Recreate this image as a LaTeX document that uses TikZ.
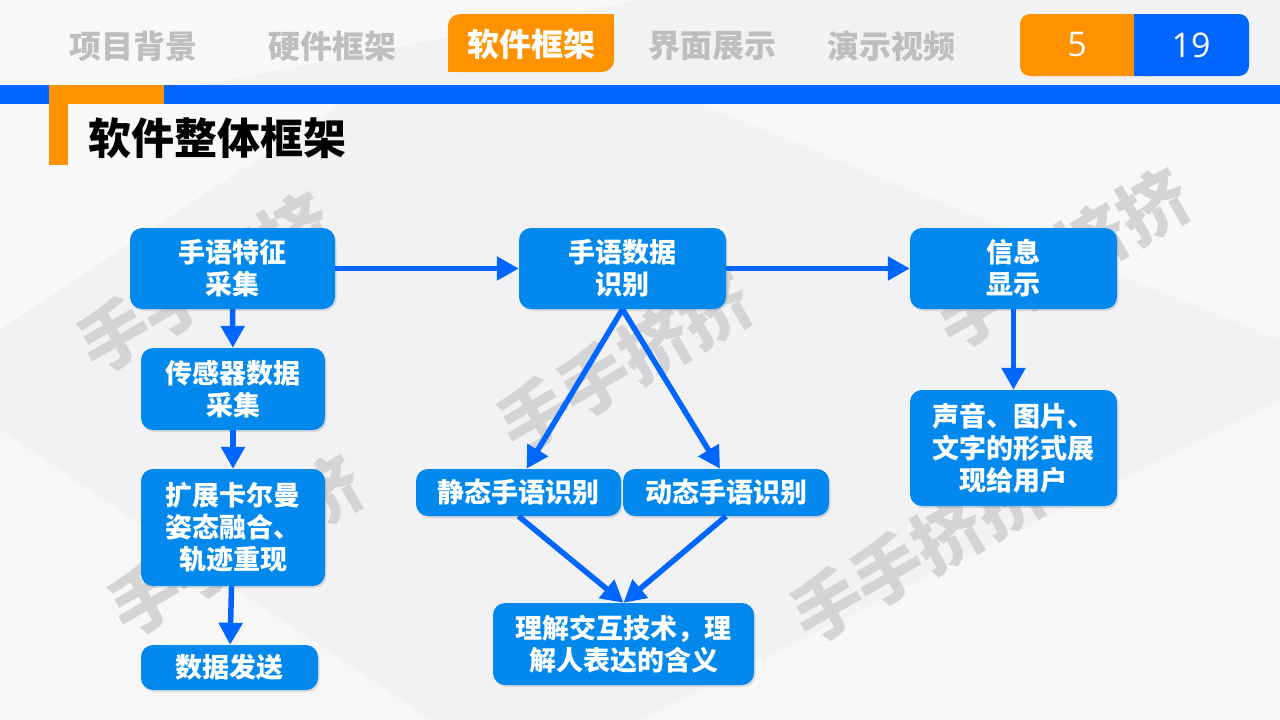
\documentclass[tikz,border=0pt]{standalone}
\usepackage{fontspec}
\setmainfont{Noto Sans CJK SC}
\newfontfamily\numfont{Open Sans}
\usetikzlibrary{
  arrows.meta,
  shadows
}
\definecolor{boxblue}{RGB}{3,137,238}
\definecolor{barblue}{RGB}{0,102,255}
\definecolor{taborange}{RGB}{255,146,0}
\definecolor{tabgray}{RGB}{190,190,192}
\definecolor{markgray}{RGB}{212,212,214}
\definecolor{paper}{RGB}{242,242,244}

\begin{document}
\begin{tikzpicture}[
  x=1pt, y=-1pt,
  box/.style = {shape=rectangle, rounded corners=12pt, fill=boxblue,
    text=white, align=center, inner sep=0pt,
    font=\bfseries\fontsize{27}{32}\selectfont,
    drop shadow={opacity=0.22, shadow xshift=1.5pt, shadow yshift=-2pt}},
  flow/.style = {draw=barblue, line width=5.5pt,
    -{Triangle[length=22pt,width=23pt]}},
  tab/.style = {text=tabgray, font=\bfseries\fontsize{32}{32}\selectfont},
  wmark/.style = {rotate=30, text=markgray,
    font=\bfseries\fontsize{70}{70}\selectfont}]
  \useasboundingbox (0,0) rectangle (1280,720);
  \fill[paper] (0,0) rectangle (1280,720);
  \fill[white, opacity=0.55] (0,104) -- (340,104) -- (0,330) -- cycle;
  \fill[white, opacity=0.45] (0,430) -- (0,720) -- (430,720) -- cycle;
  \fill[white, opacity=0.5] (700,104) -- (1280,104) -- (1280,340) -- cycle;
  \fill[white, opacity=0.45] (640,720) -- (1280,400) -- (1280,720) -- cycle;
  \fill[white, opacity=0.5] (0,0) -- (640,0) -- (200,85) -- (0,85) -- cycle;

  \node[wmark] (wm1) at (205,282) {手手挤挤};
  \node[wmark] (wm2) at (625,362) {手手挤挤};
  \node[wmark] (wm3) at (1062,258) {手手挤挤};
  \node[wmark] (wm4) at (236,545) {手手挤挤};
  \node[wmark] (wm5) at (918,552) {手手挤挤};

  \fill[barblue] (0,85) rectangle (1280,104);
  \fill[taborange] (49,85) rectangle (164,104);
  \fill[taborange] (49,85) rectangle (68,165);
  \node[font=\bfseries\fontsize{43}{43}\selectfont, anchor=west] (title) at (85,138) {软件整体框架};

  \fill[taborange, rounded corners=12pt] (448,14) rectangle (614,72);
  \fill[taborange] (590,14) rectangle (614,40);
  \fill[taborange] (448,48) rectangle (472,72);
  \node[tab] (tab1) at (133,46) {项目背景};
  \node[tab] (tab2) at (332,46) {硬件框架};
  \node[tab, text=white] (tab3) at (531,44) {软件框架};
  \node[tab] (tab4) at (712,46) {界面展示};
  \node[tab] (tab5) at (891,46) {演示视频};

  \fill[taborange, rounded corners=10pt] (1020,14) rectangle (1160,76);
  \fill[barblue, rounded corners=10pt] (1134,14) rectangle (1249,76);
  \fill[barblue] (1134,14) rectangle (1150,76);
  \node[text=white, font=\numfont\fontsize{34}{34}\selectfont] (curpage) at (1077,45) {5};
  \node[text=white, font=\numfont\fontsize{34}{34}\selectfont] (total) at (1191,45) {19};

  \node[box, minimum width=205pt, minimum height=81pt] (collect) at (232.5,268.5) {手语特征\\采集};
  \node[box, minimum width=184pt, minimum height=82pt] (sensor) at (233,389) {传感器数据\\采集};
  \node[box, minimum width=184pt, minimum height=117pt] (kalman) at (233,527.5) {扩展卡尔曼\\姿态融合、\\轨迹重现};
  \node[box, minimum width=177pt, minimum height=45pt] (send) at (229.5,667.5) {数据发送};
  \node[box, minimum width=207pt, minimum height=81pt] (recog) at (622.5,268.5) {手语数据\\识别};
  \node[box, minimum width=205pt, minimum height=47pt] (static) at (518.5,492.5) {静态手语识别};
  \node[box, minimum width=206pt, minimum height=47pt] (dynamic) at (726,492.5) {动态手语识别};
  \node[box, minimum width=261pt, minimum height=82pt] (understand) at (623.5,644) {理解交互技术，理\\解人表达的含义};
  \node[box, minimum width=207pt, minimum height=81pt] (info) at (1013.5,268.5) {信息\\显示};
  \node[box, minimum width=207pt, minimum height=116pt] (show) at (1013.5,448) {声音、图片、\\文字的形式展\\现给用户};

  \draw[flow] (collect) -- (recog);
  \draw[flow] (recog) -- (info);
  \draw[flow] (collect) -- (sensor);
  \draw[flow] (sensor) -- (kalman);
  \draw[flow] (kalman) -- (send);
  \draw[flow] (recog.south) -- ([xshift=8pt]static.north);
  \draw[flow] (recog.south) -- ([xshift=-6pt]dynamic.north);
  \draw[flow] (static.south) -- (understand.north);
  \draw[flow] (dynamic.south) -- (understand.north);
  \draw[flow] (info) -- (show);
\end{tikzpicture}
\end{document}
